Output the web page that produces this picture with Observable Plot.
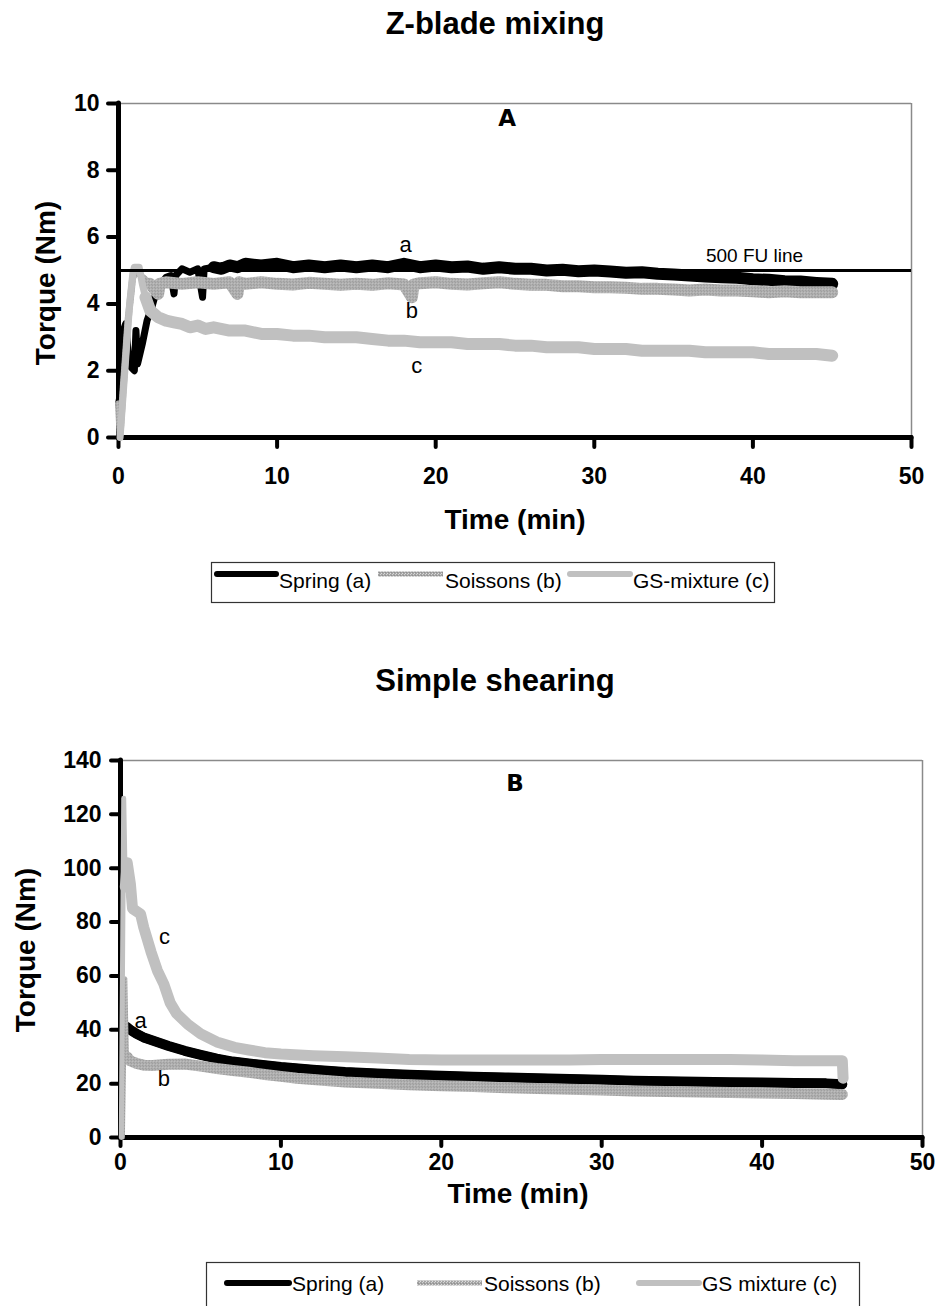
<!DOCTYPE html>
<html><head><meta charset="utf-8">
<script src="https://cdn.jsdelivr.net/npm/d3@7"></script>
<script src="https://cdn.jsdelivr.net/npm/@observablehq/plot@0.6"></script>
<style>
body{margin:0;background:#fff;}
#wrap{position:relative;width:939px;height:1306px;overflow:hidden;background:#fff;}
#wrap svg{position:absolute;left:0;}
</style></head>
<body><div id="wrap"></div>
<script>
// ---------- Panel A: Z-blade mixing ----------
const seriesA = ["Spring (a)", "Soissons (b)", "GS-mixture (c)"];
const tA_spring = [0,0.15,0.3,0.45,0.6,0.8,1.0,1.1,1.2,1.5,1.8,2.1,2.4,2.7,3.0,3.3,3.5,3.6,4.0,4.5,5.0,5.3,5.4,6,6.5,7,7.5,8,9,10,11,12,13,14,15,16,17,18,19,20,21,22,23,24,25,26,27,28,29,30,31,32,33,34,35,36,37,38,39,40,41,42,43,44,45];
const vA_spring = [1.0,1.4,3.2,3.4,2.6,2.1,2.0,3.2,2.2,2.8,3.5,3.9,4.4,4.6,4.8,4.85,4.3,4.85,5.05,4.95,5.05,4.2,5.05,5.1,5.05,5.15,5.1,5.2,5.15,5.2,5.1,5.15,5.1,5.15,5.1,5.15,5.1,5.2,5.1,5.15,5.1,5.12,5.05,5.1,5.05,5.05,5.0,5.02,4.98,5.0,4.97,4.93,4.95,4.9,4.88,4.85,4.82,4.8,4.78,4.74,4.72,4.68,4.67,4.63,4.6];
const tA_soissons = [0,0.1,0.3,0.6,0.9,1.2,1.5,2,2.5,2.6,3,4,5,6,7,7.5,7.6,8,9,10,11,12,13,14,15,16,17,18,18.5,18.6,19,20,21,22,23,24,25,26,27,28,29,30,31,32,33,34,35,36,37,38,39,40,41,42,43,44,45];
const vA_soissons = [1.0,0.1,1.5,3.5,4.8,5.0,4.8,4.6,4.3,4.6,4.65,4.6,4.65,4.6,4.65,4.3,4.65,4.6,4.65,4.6,4.58,4.63,4.6,4.57,4.6,4.57,4.62,4.58,4.2,4.58,4.62,4.65,4.6,4.58,4.62,4.65,4.6,4.57,4.57,4.53,4.53,4.5,4.5,4.48,4.45,4.45,4.43,4.4,4.43,4.4,4.4,4.38,4.35,4.38,4.35,4.35,4.35];
const tA_gs = [0.1,0.4,0.7,0.9,1.0,1.3,1.5,1.7,2.0,2.5,3,3.5,4,4.5,5,5.5,6,7,8,9,10,11,12,13,14,15,16,17,18,19,20,21,22,23,24,25,26,27,28,29,30,31,32,33,34,35,36,37,38,39,40,41,42,43,44,45];
const vA_gs = [0,2.0,4.0,4.9,5.1,5.1,4.6,4.2,3.8,3.6,3.5,3.45,3.4,3.3,3.35,3.25,3.3,3.2,3.2,3.1,3.1,3.05,3.05,3.0,3.0,3.0,2.95,2.9,2.9,2.85,2.85,2.85,2.8,2.8,2.8,2.75,2.75,2.7,2.7,2.7,2.65,2.65,2.65,2.6,2.6,2.6,2.6,2.55,2.55,2.55,2.55,2.5,2.5,2.5,2.5,2.45];
const fuLineA = 5;
const fuLabelA = "500 FU line";
const yTicksA = [0,2,4,6,8,10];

// ---------- Panel B: Simple shearing ----------
const seriesB = ["Spring (a)", "Soissons (b)", "GS mixture (c)"];
const tB_spring = [0.4,0.6,1,1.5,2,2.5,3,4,5,6,7,8,10,12,14,16,18,20,22,24,26,28,30,32,34,36,38,40,42,44,45];
const vB_spring = [41,40,38.5,37,36,35,34,32.2,30.7,29.3,28.2,27.5,26.2,25.2,24.3,23.8,23.3,22.9,22.6,22.3,22.0,21.7,21.4,21.1,20.9,20.7,20.5,20.4,20.2,20.1,19.8];
const tB_soissons = [0.15,0.3,0.4,0.6,1,1.5,2,3,4,5,6,7,8,9,10,11,12,14,16,18,20,22,24,26,28,30,32,34,36,38,40,42,44,45];
const vB_soissons = [0,59,30,28.5,27.5,26.8,26.7,27.2,27.3,26.5,25.6,24.9,24.2,23.4,22.7,22,21.5,20.6,20.1,19.6,19.2,18.9,18.5,18.2,17.9,17.6,17.3,17.1,16.9,16.7,16.5,16.3,16.1,16];
const tB_gs = [0.05,0.2,0.3,0.42,0.62,0.75,1.25,1.45,1.9,2.3,2.7,3.1,3.5,4.2,5.0,6,7.1,8,9,10,12,14,16,18,20,22,24,26,28,30,32,34,36,38,40,42,44,45,45.05];
const vB_gs = [0,126,93,102,94,85,83,78,69,62,57,50,46,42,38.5,35.5,33.5,32.5,31.5,31,30.4,30,29.5,29,28.8,28.8,28.8,28.8,28.8,29,29,29,29,29,28.8,28.5,28.5,28.5,22];
const yTicksB = [0,20,40,60,80,100,120,140];

const xTicks = [0,10,20,30,40,50];

// ---------- helpers ----------
const zip = (ts, vs) => ts.map((t, i) => ({t, v: vs[i]}));
const FONT = "'Liberation Sans', Arial, Helvetica, sans-serif";
const C_SPRING = "#000000", C_GS = "#c0c0c0";
const patternDef = id => `<pattern id="${id}" patternUnits="userSpaceOnUse" width="3" height="3"><rect width="3" height="3" fill="#a4a4a4"/><rect x="0" y="0" width="1" height="1" fill="#dcdcdc"/><rect x="2" y="1" width="1" height="1" fill="#d2d2d2"/><rect x="1" y="2" width="1" height="1" fill="#909090"/></pattern>`;
function addPattern(svg, id) {
  const defs = document.createElementNS("http://www.w3.org/2000/svg", "defs");
  defs.innerHTML = patternDef(id);
  svg.insertBefore(defs, svg.firstChild);
}
// a series is drawn as a thin trace over its whole length and as a wider noisy band once it settles
function band(rows, stroke, thin, wide, from) {
  const o = {x: "t", y: "v", stroke, strokeLinejoin: "round", strokeLinecap: "round"};
  return [
    Plot.line(rows, {...o, strokeWidth: thin}),
    Plot.line(rows, {...o, strokeWidth: wide, filter: d => d.t >= from})
  ];
}

const wrap = document.getElementById("wrap");

// ---------- Chart A ----------
const annA = [
  {t: 18.1, v: 5.75, label: "a"},
  {t: 18.5, v: 3.8, label: "b"},
  {t: 18.8, v: 2.15, label: "c"}
];
const chartA = Plot.plot({
  width: 939, height: 560,
  marginTop: 103, marginBottom: 123, marginLeft: 118, marginRight: 28,
  style: {fontFamily: FONT, background: "transparent", overflow: "visible", color: "#000"},
  x: {domain: [0, 50]},
  y: {domain: [0, 10]},
  marks: [
    Plot.ruleY([10], {stroke: "#8a8a8a", strokeWidth: 1.5}),
    Plot.ruleX([50], {stroke: "#8a8a8a", strokeWidth: 1.5}),
    Plot.ruleX([0], {stroke: "#000", strokeWidth: 5, strokeLinecap: "round"}),
    Plot.ruleY([0], {stroke: "#000", strokeWidth: 5, strokeLinecap: "round"}),
    Plot.axisY({ticks: yTicksA, tickSize: 10, tickPadding: 9, strokeWidth: 4, strokeLinecap: "round", fontSize: 23, fontWeight: "bold", label: null}),
    Plot.axisX({ticks: xTicks, tickSize: 10, tickPadding: 20, strokeWidth: 4, strokeLinecap: "round", fontSize: 23, fontWeight: "bold", label: null}),
    ...band(zip(tA_spring, vA_spring), C_SPRING, 7, 12, 6),
    ...band(zip(tA_soissons, vA_soissons), "url(#soisPatA)", 7, 12, 1.8),
    ...band(zip(tA_gs, vA_gs), C_GS, 7, 12, 1.6),
    Plot.ruleY([fuLineA], {stroke: "#000", strokeWidth: 3}),
    Plot.text(annA, {x: "t", y: "v", text: "label", fontSize: 22, fill: "#000"}),
    Plot.text([{t: 40.1, v: 5.45, label: fuLabelA}], {x: "t", y: "v", text: "label", fontSize: 19, fill: "#000"}),
    Plot.text([{t: 24.5, v: 9.55, label: "A"}], {x: "t", y: "v", text: "label", fontSize: 23, fontWeight: "bold", fontFamily: "'DejaVu Sans', sans-serif", fill: "#000"})
  ]
});
addPattern(chartA, "soisPatA");
chartA.style.top = "0px";
wrap.appendChild(chartA);

// ---------- Chart B ----------
const annB = [
  {t: 2.75, v: 74.3, label: "c"},
  {t: 1.25, v: 43.4, label: "a"},
  {t: 2.7, v: 21.9, label: "b"}
];
const chartB = Plot.plot({
  width: 939, height: 606,
  marginTop: 60, marginBottom: 169, marginLeft: 120, marginRight: 17,
  style: {fontFamily: FONT, background: "transparent", overflow: "visible", color: "#000"},
  x: {domain: [0, 50]},
  y: {domain: [0, 140]},
  marks: [
    Plot.ruleY([140], {stroke: "#8a8a8a", strokeWidth: 1.5}),
    Plot.ruleX([50], {stroke: "#8a8a8a", strokeWidth: 1.5}),
    Plot.ruleX([0], {stroke: "#000", strokeWidth: 5, strokeLinecap: "round"}),
    Plot.ruleY([0], {stroke: "#000", strokeWidth: 5, strokeLinecap: "round"}),
    Plot.axisY({ticks: yTicksB, tickSize: 9, tickPadding: 10, strokeWidth: 4, strokeLinecap: "round", fontSize: 23, fontWeight: "bold", label: null}),
    Plot.axisX({ticks: xTicks, tickSize: 9, tickPadding: 7, strokeWidth: 4, strokeLinecap: "round", fontSize: 23, fontWeight: "bold", label: null}),
    ...band(zip(tB_spring, vB_spring), C_SPRING, 9, 10, 0.4),
    ...band(zip(tB_soissons, vB_soissons), "url(#soisPatB)", 4, 11, 0.4),
    ...band(zip(tB_gs, vB_gs), C_GS, 5, 11, 0.3),
    Plot.text(annB, {x: "t", y: "v", text: "label", fontSize: 22, fill: "#000"}),
    Plot.text([{t: 24.6, v: 131.5, label: "B"}], {x: "t", y: "v", text: "label", fontSize: 23, fontWeight: "bold", fontFamily: "'DejaVu Sans', sans-serif", fill: "#000"})
  ]
});
addPattern(chartB, "soisPatB");
chartB.style.top = "700px";
wrap.appendChild(chartB);

// ---------- Titles, axis titles, legends (overlay) ----------
const ov = d3.create("svg").attr("width", 939).attr("height", 1306)
  .style("top", "0px").style("font-family", FONT).style("pointer-events", "none");
ov.append("defs").html(patternDef("soisPatL"));

function title(x, y, txt, size) {
  ov.append("text").attr("x", x).attr("y", y).attr("text-anchor", "middle")
    .attr("font-size", size).attr("font-weight", "bold").text(txt);
}
function vtitle(x, y, txt, size) {
  ov.append("text").attr("transform", `translate(${x},${y}) rotate(-90)`).attr("text-anchor", "middle")
    .attr("font-size", size).attr("font-weight", "bold").text(txt);
}
title(495, 34, "Z-blade mixing", 31);
title(495, 691, "Simple shearing", 31);
title(515, 529, "Time (min)", 28);
title(518, 1203, "Time (min)", 28);
vtitle(55, 283, "Torque (Nm)", 28);
vtitle(35, 950, "Torque (Nm)", 28);

function legend(box, lineY, textY, items, labels) {
  ov.append("rect").attr("x", box[0]).attr("y", box[1]).attr("width", box[2]).attr("height", box[3])
    .attr("fill", "none").attr("stroke", "#333").attr("stroke-width", 1.2);
  items.forEach((it, i) => {
    const stroke = i === 0 ? C_SPRING : i === 1 ? "url(#soisPatL)" : C_GS;
    ov.append("line").attr("x1", it[0]).attr("x2", it[1]).attr("y1", lineY).attr("y2", lineY)
      .attr("stroke", stroke).attr("stroke-width", i === 1 ? 5 : 6)
      .attr("stroke-linecap", i === 1 ? "butt" : "round");
    ov.append("text").attr("x", it[2]).attr("y", textY).attr("font-size", 21).text(labels[i]);
  });
}
legend([211.5, 562.5, 563, 40], 574, 588,
  [[217, 276, 279], [378, 443, 445], [570, 630, 633]], seriesA);
legend([206.5, 1262.5, 653, 70], 1283, 1291,
  [[227, 289, 292], [417, 482, 484], [639, 699, 702]], seriesB);

wrap.appendChild(ov.node());
</script>
</body></html>
